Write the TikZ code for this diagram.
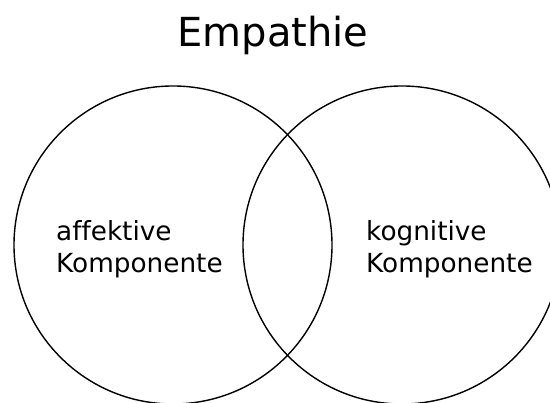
\documentclass[tikz,border=0pt]{standalone}
\usepackage{fontspec}
\setmainfont[Ligatures=NoCommon]{DejaVu Sans}
\usepackage{tikz}
\tikzset{
  setcircle/.style={circle, draw=black, line width=1.4pt, minimum size=318pt, inner sep=0pt},
  setlabel/.style={anchor=west, align=left, inner sep=0pt, font=\fontsize{26.3}{32}\selectfont},
  titlelabel/.style={anchor=base, inner sep=0pt, font=\fontsize{40}{48}\selectfont}
}

\begin{document}
\begin{tikzpicture}[x=1pt, y=1pt]
        \useasboundingbox (0, 0) rectangle (550, 403);
        \clip (0, 0) rectangle (550, 403);
        % sets
        \node[setcircle] (affektiv) at (173, 158) {};
        \node[setcircle] (kognitiv) at (402, 158) {};
        % labels
        \node[titlelabel] (empathie) at (273, 356) {Empathie};
        \node[setlabel] (affektivtext) at (56, 153.5) {affektive\\Komponente};
        \node[setlabel] (kognitivtext) at (366, 153.5) {kognitive\\Komponente};
    \end{tikzpicture}
\end{document}
